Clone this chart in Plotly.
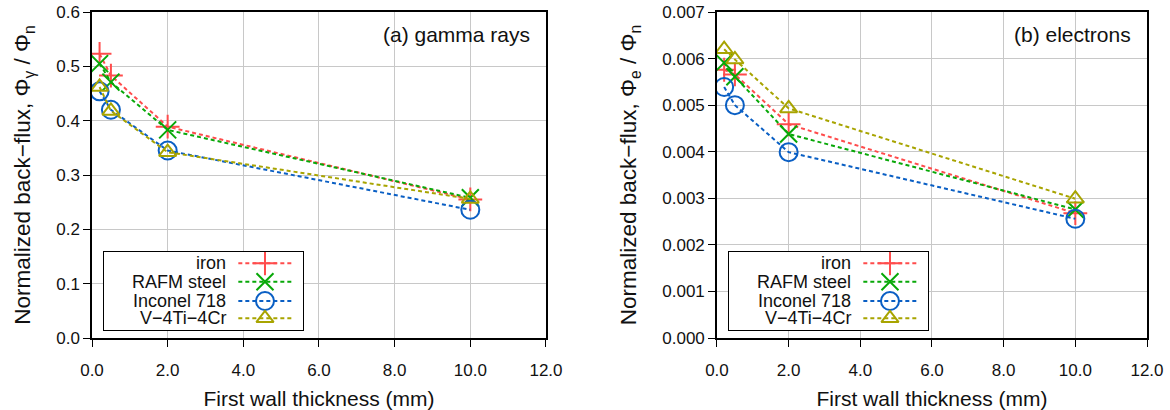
import plotly.graph_objects as go

# ---------------- data ----------------
thickness = [0.2, 0.5, 2.0, 10.0]
materials = ["iron", "RAFM steel", "Inconel 718", "V\u22124Ti\u22124Cr"]

gamma_iron = [0.523, 0.483, 0.389, 0.255]
gamma_rafm = [0.505, 0.471, 0.383, 0.258]
gamma_inconel = [0.454, 0.420, 0.345, 0.236]
gamma_v = [0.462, 0.418, 0.342, 0.256]

electron_iron = [0.00576, 0.00566, 0.00459, 0.00268]
electron_rafm = [0.00591, 0.00561, 0.00438, 0.00276]
electron_inconel = [0.00539, 0.00500, 0.00399, 0.00256]
electron_v = [0.00620, 0.00598, 0.00493, 0.00299]

x_ticks = [0, 2, 4, 6, 8, 10, 12]

# ---------------- style ----------------
colors = ["#ff4c4c", "#08a808", "#0a5fc4", "#a8a400"]
symbols = ["cross-thin-open", "x-thin-open", "circle-open", "triangle-up-open"]
msizes = [17, 17, 18, 15]
FONT = "Liberation Sans, Arial, sans-serif"
TXT = "#111111"
DASH = "4px,3px"

fig = go.Figure()

panels = [
    ([gamma_iron, gamma_rafm, gamma_inconel, gamma_v], "x", "y"),
    ([electron_iron, electron_rafm, electron_inconel, electron_v], "x2", "y2"),
]
for series, xa, ya in panels:
    for name, vals, c, s, sz in zip(materials, series, colors, symbols, msizes):
        fig.add_trace(go.Scatter(
            x=thickness, y=vals, name=name, mode="lines+markers",
            xaxis=xa, yaxis=ya, showlegend=False,
            line=dict(color=c, width=2, dash=DASH),
            marker=dict(symbol=s, size=sz, color=c, line=dict(color=c, width=2)),
        ))

# ---------------- manual legends (text left, sample right) ----------------
row_y = [0.852, 0.617, 0.370, 0.149]
sample_x = [0.675, 0.943]
marker_x = 0.809
text_x = 0.622
for lx, ly in [("x3", "y3"), ("x4", "y4")]:
    for name, c, s, sz, ry in zip(materials, colors, symbols, msizes, row_y):
        fig.add_trace(go.Scatter(
            x=sample_x, y=[ry, ry], mode="lines", xaxis=lx, yaxis=ly,
            showlegend=False, hoverinfo="skip",
            line=dict(color=c, width=2, dash=DASH),
        ))
        fig.add_trace(go.Scatter(
            x=[marker_x], y=[ry], mode="markers", xaxis=lx, yaxis=ly,
            showlegend=False, hoverinfo="skip",
            marker=dict(symbol=s, size=sz, color=c, line=dict(color=c, width=2)),
        ))
        fig.add_annotation(
            x=text_x, y=ry, xref=lx, yref=ly, text=name, showarrow=False,
            xanchor="right", yanchor="middle",
            font=dict(family=FONT, size=18, color=TXT),
        )

# ---------------- panel labels ----------------
fig.add_annotation(x=0.9685, y=0.9325, xref="x domain", yref="y domain",
                   text="(a) gamma rays", showarrow=False, xanchor="right",
                   yanchor="middle", font=dict(family=FONT, size=21, color=TXT))
fig.add_annotation(x=0.967, y=0.9325, xref="x2 domain", yref="y2 domain",
                   text="(b) electrons", showarrow=False, xanchor="right",
                   yanchor="middle", font=dict(family=FONT, size=21, color=TXT))

# ---------------- axes ----------------
common_x = dict(
    range=[0, 12], tickvals=x_ticks, tickformat=".1f",
    showgrid=True, gridcolor="#c8c8c8", gridwidth=1,
    showline=True, linecolor="black", linewidth=1.5, mirror=True,
    ticks="outside", ticklen=7, tickcolor="black", zeroline=False,
    tickfont=dict(family=FONT, size=17, color=TXT),
    ticklabelstandoff=9, automargin=False,
    title=dict(text="First wall thickness (mm)",
               font=dict(family=FONT, size=21, color=TXT)),
)
common_y = dict(
    showgrid=True, gridcolor="#c8c8c8", gridwidth=1,
    showline=True, linecolor="black", linewidth=1.5, mirror=True,
    ticks="outside", ticklen=7, tickcolor="black", zeroline=False,
    tickfont=dict(family=FONT, size=17, color=TXT), automargin=False,
)
legend_ax = dict(range=[0, 1], showgrid=False, zeroline=False, showticklabels=False,
                 ticks="", showline=True, mirror=True, linecolor="black",
                 linewidth=1, fixedrange=True, automargin=False)

fig.update_layout(
    width=1170, height=410, autosize=False,
    margin=dict(l=92, r=23, t=12, b=72, pad=0, autoexpand=False),
    paper_bgcolor="white", plot_bgcolor="white",
    font=dict(family=FONT, color=TXT),
    xaxis=dict(domain=[0, 0.4303], anchor="y", **common_x),
    yaxis=dict(domain=[0, 1], anchor="x", range=[0, 0.6], dtick=0.1,
               tickformat=".1f",
               title=dict(text="Normalized back\u2212flux, \u03a6<sub>\u03b3</sub> / \u03a6<sub>n</sub>",
                          font=dict(family=FONT, size=22.5, color=TXT), standoff=19),
               **common_y),
    xaxis2=dict(domain=[0.5924, 1], anchor="y2", **common_x),
    yaxis2=dict(domain=[0, 1], anchor="x2", range=[0, 0.007], dtick=0.001,
                tickformat=".3f",
                title=dict(text="Normalized back\u2212flux, \u03a6<sub>e</sub> / \u03a6<sub>n</sub>",
                           font=dict(family=FONT, size=22.5, color=TXT), standoff=19),
                **common_y),
    xaxis3=dict(domain=[0.01137, 0.2], anchor="y3", **legend_ax),
    yaxis3=dict(domain=[0.0245, 0.2647], anchor="x3", **legend_ax),
    xaxis4=dict(domain=[0.6038, 0.7924], anchor="y4", **legend_ax),
    yaxis4=dict(domain=[0.0245, 0.2647], anchor="x4", **legend_ax),
    showlegend=False,
)

fig.write_html("out.html")
